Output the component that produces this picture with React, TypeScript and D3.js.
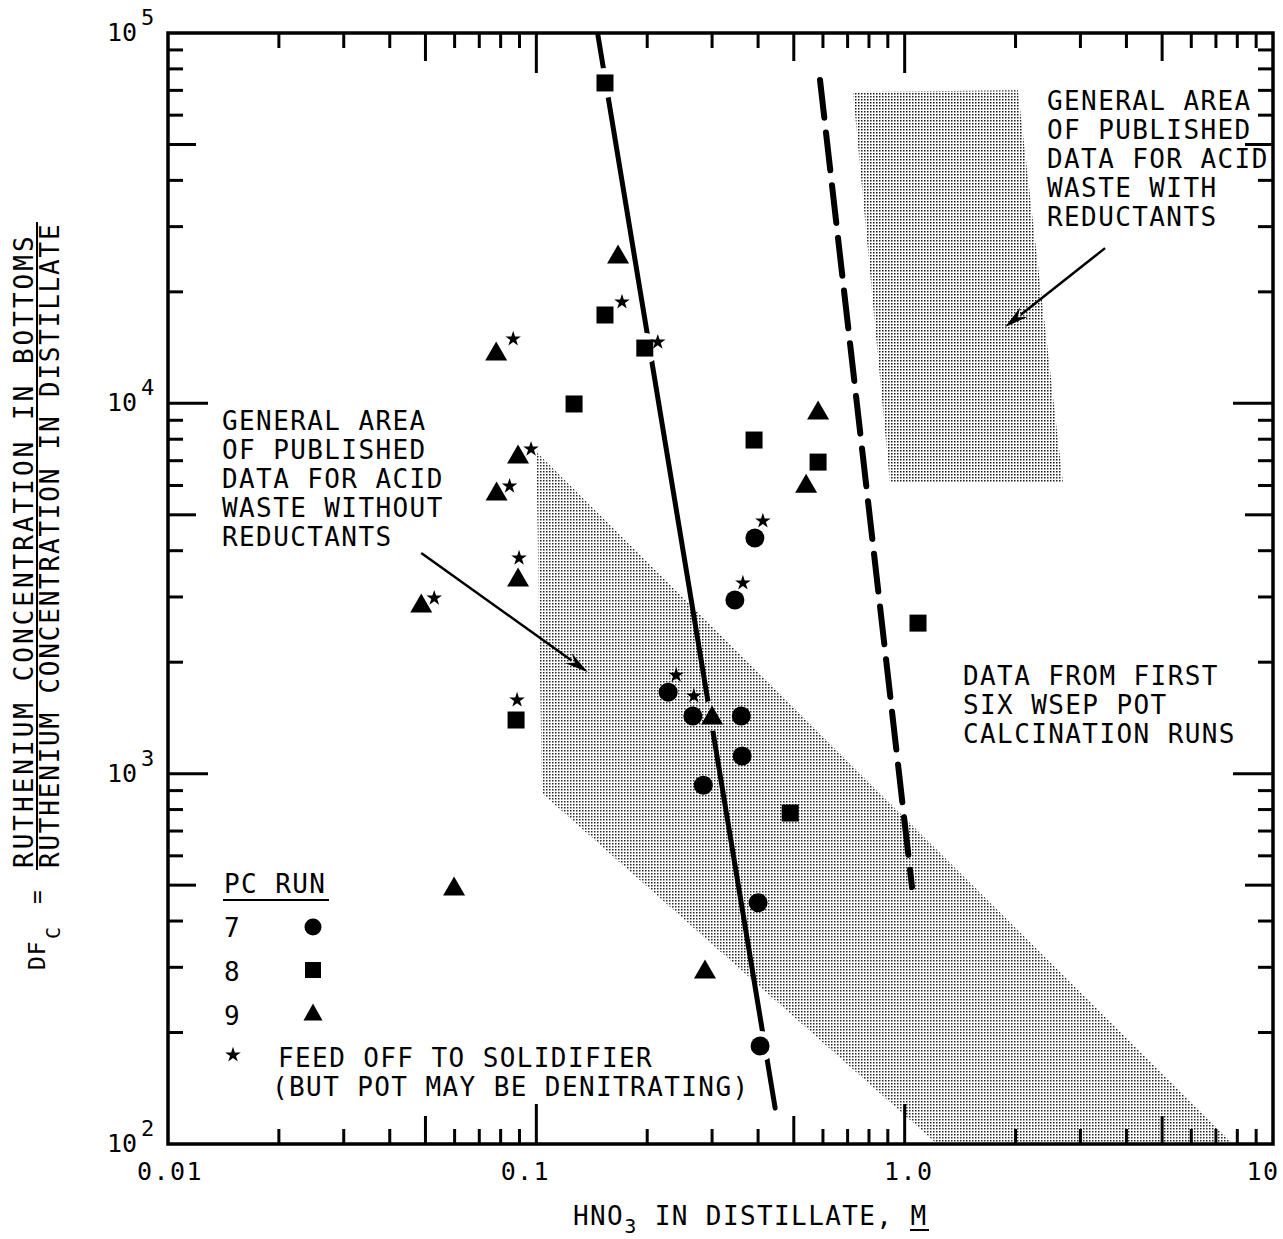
import * as d3 from "d3";

const W = 1283;
const H = 1239;
const FRAME = { left: 168, right: 1273, top: 33, bottom: 1144 };
const FONT = "'DejaVu Sans Mono', monospace";

// axis ticks
const xTickValues = [0.01, 0.1, 1, 10];
const xTickLabels = ["0.01", "0.1", "1.0", "10"];
const yTickValues = [100, 1000, 10000, 100000];
const yTickExponents = ["2", "3", "4", "5"];

// [HNO3 in distillate (M), DFc, star placement ("" = no star)]
const run7: [number, number, string][] = [
  [0.392, 4330, "ne"],
  [0.346, 2945, "ne"],
  [0.228, 1660, "ne"],
  [0.266, 1432, "n"],
  [0.36, 1432, ""],
  [0.362, 1116, ""],
  [0.284, 931, ""],
  [0.4, 448, ""],
  [0.405, 184, ""],
];
const run8: [number, number, string][] = [
  [0.1536, 73300, ""],
  [0.1536, 17320, "e"],
  [0.197, 14100, "r"],
  [0.1266, 9960, ""],
  [0.39, 7960, ""],
  [0.582, 6940, ""],
  [1.087, 2550, ""],
  [0.0881, 1396, "n"],
  [0.489, 783, ""],
];
const run9: [number, number, string][] = [
  [0.1667, 25150, ""],
  [0.0778, 13760, "e"],
  [0.0892, 7250, "r"],
  [0.078, 5760, "r"],
  [0.0892, 3375, "n"],
  [0.0487, 2870, "r"],
  [0.0598, 494, ""],
  [0.3, 1432, ""],
  [0.582, 9530, ""],
  [0.54, 6050, ""],
  [0.287, 295, ""],
];

// published-data areas
const areaWithout: [number, number][] = [[0.1, 7390], [7.79, 100], [1.225, 100], [0.1036, 886]];
const areaWith: [number, number][] = [[0.724, 69300], [2.03, 70000], [2.69, 6090], [0.912, 6090]];

// fitted lines
const solidLine: [number, number][] = [[0.147, 98500], [0.445, 125]];
const dashedLine: [number, number][] = [[0.589, 74700], [1.047, 494]];

// arrows
const arrowWithout: [number, number][] = [[0.0487, 3945], [0.138, 1880]];
const arrowWith: [number, number][] = [[3.5, 26250], [1.873, 16070]];

const noteWithout = ["GENERAL AREA", "OF PUBLISHED", "DATA FOR ACID", "WASTE WITHOUT", "REDUCTANTS"];
const noteWith = ["GENERAL AREA", "OF PUBLISHED", "DATA FOR ACID", "WASTE WITH", "REDUCTANTS"];
const noteData = ["DATA FROM FIRST", "SIX WSEP POT", "CALCINATION RUNS"];
const legendRuns = ["7", "8", "9"];

const STAR_OFFSET: Record<string, [number, number]> = {
  n: [1, -20],
  ne: [8, -17],
  e: [17, -13],
  r: [13, -6],
};

const x = d3.scaleLog().domain([0.01, 10]).range([FRAME.left, FRAME.right]);
const y = d3.scaleLog().domain([100, 100000]).range([FRAME.bottom, FRAME.top]);

const starPath = d3.symbol(d3.symbolStar, 75)()!;
const circlePath = (r: number) => d3.symbol(d3.symbolCircle, Math.PI * r * r)()!;
const squarePath = (s: number) => d3.symbol(d3.symbolSquare, s * s)()!;
const trianglePath = (w: number, h: number) =>
  `M0,${-h / 2 - 1}L${w / 2},${h / 2 - 1}L${-w / 2},${h / 2 - 1}Z`;

function minorTicks(decades: number[]) {
  const out: { v: number; len: number }[] = [];
  decades.forEach((d, i) => {
    if (i > 0) out.push({ v: d, len: 40 });
    for (let k = 2; k <= 9; k++) out.push({ v: k * d, len: k === 5 ? 28 : 15 });
  });
  return out;
}

function Marker({ kind, big }: { kind: string; big: boolean }) {
  if (kind === "circle") return <path d={circlePath(big ? 9.5 : 8.5)} fill="#000" />;
  if (kind === "square") return <path d={squarePath(big ? 17 : 16)} fill="#000" />;
  return <path d={trianglePath(big ? 22 : 19, big ? 19 : 17)} fill="#000" />;
}

function Arrow({ pts }: { pts: [number, number][] }) {
  const [x0, y0] = [x(pts[0][0]), y(pts[0][1])];
  const [x1, y1] = [x(pts[1][0]), y(pts[1][1])];
  const a = Math.atan2(y1 - y0, x1 - x0);
  const L = 24;
  const Wd = 6;
  const bx = x1 - L * Math.cos(a);
  const by = y1 - L * Math.sin(a);
  const head = [
    [x1, y1],
    [bx + Wd * Math.sin(a), by - Wd * Math.cos(a)],
    [bx + 8 * Math.cos(a), by + 8 * Math.sin(a)],
    [bx - Wd * Math.sin(a), by + Wd * Math.cos(a)],
  ];
  return (
    <g>
      <line x1={x0} y1={y0} x2={bx + 4 * Math.cos(a)} y2={by + 4 * Math.sin(a)} stroke="#000" strokeWidth={2.5} />
      <polygon points={head.map((p) => p.join(",")).join(" ")} fill="#000" />
    </g>
  );
}

export default function App() {
  const xt = minorTicks([0.01, 0.1, 1]);
  const yt = minorTicks([100, 1000, 10000]);

  const series = [
    { kind: "circle", data: run7 },
    { kind: "square", data: run8 },
    { kind: "triangle", data: run9 },
  ];

  // gaps in the solid line where it runs through a marker
  const lx0 = x(solidLine[0][0]), ly0 = y(solidLine[0][1]);
  const lx1 = x(solidLine[1][0]), ly1 = y(solidLine[1][1]);
  const segLen = Math.hypot(lx1 - lx0, ly1 - ly0);
  const holes: [number, number][] = [];
  series.forEach((s) =>
    s.data.forEach(([vx, vy]) => {
      const px = x(vx), py = y(vy);
      const dist = Math.abs((lx1 - lx0) * (ly0 - py) - (lx0 - px) * (ly1 - ly0)) / segLen;
      if (dist < 10) holes.push([px, py]);
    })
  );

  const poly = (pts: [number, number][]) => pts.map(([a, b]) => `${x(a)},${y(b)}`).join(" ");
  const textStyle = { fontFamily: FONT, fontSize: 26, letterSpacing: 1.4 } as const;

  return (
    <svg
      width={W}
      height={H}
      style={{ position: "absolute", left: 0, top: 0, background: "#fff" }}
    >
      <defs>
        <pattern id="stipple" width={3} height={3} patternUnits="userSpaceOnUse">
          <rect x={0} y={0} width={1.5} height={1.5} fill="#000" />
        </pattern>
        <mask id="lineGaps" maskUnits="userSpaceOnUse" x={0} y={0} width={W} height={H}>
          <rect x={0} y={0} width={W} height={H} fill="#fff" />
          {holes.map(([hx, hy], i) => (
            <circle key={i} cx={hx} cy={hy} r={15} fill="#000" />
          ))}
        </mask>
      </defs>
      <rect width={W} height={H} fill="#fff" />

      {/* shaded areas */}
      <polygon points={poly(areaWithout)} fill="url(#stipple)" opacity={0.85} />
      <polygon points={poly(areaWith)} fill="url(#stipple)" opacity={0.9} />

      {/* lines */}
      <line
        x1={lx0}
        y1={ly0}
        x2={lx1}
        y2={ly1}
        stroke="#000"
        strokeWidth={5}
        strokeLinecap="round"
        mask="url(#lineGaps)"
      />
      <line
        x1={x(dashedLine[0][0])}
        y1={y(dashedLine[0][1])}
        x2={x(dashedLine[1][0])}
        y2={y(dashedLine[1][1])}
        stroke="#000"
        strokeWidth={6}
        strokeDasharray="38 15"
        strokeLinecap="round"
      />

      {/* frame and ticks */}
      <rect
        x={FRAME.left}
        y={FRAME.top}
        width={FRAME.right - FRAME.left}
        height={FRAME.bottom - FRAME.top}
        fill="none"
        stroke="#000"
        strokeWidth={3.5}
      />
      {xt.map((t, i) => (
        <g key={"xt" + i} stroke="#000" strokeWidth={3}>
          <line x1={x(t.v)} x2={x(t.v)} y1={FRAME.bottom} y2={FRAME.bottom - t.len} />
          <line x1={x(t.v)} x2={x(t.v)} y1={FRAME.top} y2={FRAME.top + t.len} />
        </g>
      ))}
      {yt.map((t, i) => (
        <g key={"yt" + i} stroke="#000" strokeWidth={3}>
          <line x1={FRAME.left} x2={FRAME.left + t.len} y1={y(t.v)} y2={y(t.v)} />
          <line x1={FRAME.right} x2={FRAME.right - t.len} y1={y(t.v)} y2={y(t.v)} />
        </g>
      ))}

      {/* tick labels */}
      {xTickValues.map((v, i) => (
        <text
          key={"xl" + i}
          x={x(v) + (i === 1 ? -11 : i === 3 ? -10 : i === 2 ? 4 : 2)}
          y={1180}
          textAnchor="middle"
          style={{ ...textStyle, fontSize: 25 }}
        >
          {xTickLabels[i]}
        </text>
      ))}
      {yTickValues.map((v, i) => (
        <g key={"yl" + i} style={{ fontFamily: FONT }}>
          <text x={137} y={y(v) + 8} textAnchor="end" fontSize={25} letterSpacing={0}>
            10
          </text>
          <text x={141} y={y(v) - 8} fontSize={22}>
            {yTickExponents[i]}
          </text>
        </g>
      ))}

      {/* axis titles */}
      <text x={573} y={1225} style={textStyle}>
        HNO
        <tspan dy={8} fontSize={20}>
          3
        </tspan>
        <tspan dy={-8}> IN DISTILLATE, M</tspan>
      </text>
      <line x1={910} x2={929} y1={1230} y2={1230} stroke="#000" strokeWidth={2} />

      <g transform="translate(45,970) rotate(-90)" style={{ fontFamily: FONT }}>
        <text x={0} y={0} fontSize={23} letterSpacing={1}>
          DF
        </text>
        <text x={31} y={15} fontSize={20}>
          C
        </text>
        <text x={66} y={0} fontSize={23}>
          =
        </text>
      </g>
      <g transform="translate(33,868) rotate(-90)">
        <text x={0} y={0} textLength={633} lengthAdjust="spacing" style={textStyle}>
          RUTHENIUM CONCENTRATION IN BOTTOMS
        </text>
      </g>
      <line x1={37} x2={37} y1={870} y2={222} stroke="#000" strokeWidth={2} />
      <g transform="translate(59,868) rotate(-90)">
        <text x={0} y={0} textLength={645} lengthAdjust="spacing" style={textStyle}>
          RUTHENIUM CONCENTRATION IN DISTILLATE
        </text>
      </g>

      {/* annotations */}
      {noteWithout.map((t, i) => (
        <text key={"nw" + i} x={222} y={430 + i * 29} style={textStyle}>
          {t}
        </text>
      ))}
      {noteWith.map((t, i) => (
        <text key={"nr" + i} x={1047} y={110 + i * 29} style={textStyle}>
          {t}
        </text>
      ))}
      {noteData.map((t, i) => (
        <text key={"nd" + i} x={963} y={685 + i * 29} style={textStyle}>
          {t}
        </text>
      ))}
      <Arrow pts={arrowWithout} />
      <Arrow pts={arrowWith} />

      {/* data points */}
      {series.map((s) =>
        s.data.map(([vx, vy, star], i) => {
          const px = x(vx);
          const py = y(vy);
          const off = STAR_OFFSET[star];
          return (
            <g key={s.kind + i}>
              <g transform={`translate(${px},${py})`}>
                <Marker kind={s.kind} big={true} />
              </g>
              {off && <path d={starPath} transform={`translate(${px + off[0]},${py + off[1]})`} fill="#000" />}
            </g>
          );
        })
      )}

      {/* legend */}
      <text x={224} y={893} style={textStyle}>
        PC RUN
      </text>
      <line x1={223} x2={329} y1={900} y2={900} stroke="#000" strokeWidth={2} />
      {legendRuns.map((r, i) => (
        <g key={"lg" + i}>
          <text x={224} y={937 + i * 44} style={textStyle}>
            {r}
          </text>
          <g transform={`translate(313,${927 + i * 43})`}>
            <Marker kind={series[i].kind} big={false} />
          </g>
        </g>
      ))}
      <path d={starPath} transform="translate(233,1055)" fill="#000" />
      <text x={278} y={1067} style={textStyle}>
        FEED OFF TO SOLIDIFIER
      </text>
      <text x={272} y={1096} style={textStyle}>
        (BUT POT MAY BE DENITRATING)
      </text>
    </svg>
  );
}
